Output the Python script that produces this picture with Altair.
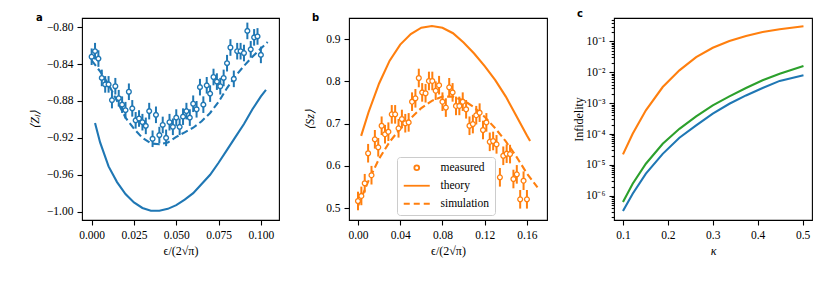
import altair as alt
import pandas as pd

BLUE = "#1f77b4"
ORANGE = "#ff7f0e"
GREEN = "#2ca02c"
FONT = "Liberation Serif"

# ---------------- panel a ----------------
a_meas_x = [0.000, 0.002, 0.004, 0.006, 0.008, 0.010, 0.012, 0.014, 0.016, 0.018,
            0.020, 0.022, 0.024, 0.026, 0.028, 0.030, 0.032, 0.034, 0.036, 0.038,
            0.040, 0.042, 0.044, 0.046, 0.048, 0.050, 0.052, 0.054, 0.056, 0.058,
            0.060, 0.062, 0.064, 0.066, 0.068, 0.070, 0.072, 0.074, 0.076, 0.078,
            0.080, 0.082, 0.084, 0.086, 0.088, 0.090, 0.092, 0.094, 0.096, 0.098,
            0.100]
a_meas_y = [-0.832, -0.826, -0.834, -0.855, -0.862, -0.862, -0.879, -0.864, -0.877, -0.884,
            -0.890, -0.870, -0.888, -0.901, -0.899, -0.903, -0.907, -0.891, -0.921, -0.895,
            -0.917, -0.906, -0.920, -0.903, -0.908, -0.898, -0.908, -0.897, -0.891, -0.898,
            -0.883, -0.889, -0.865, -0.884, -0.863, -0.872, -0.854, -0.859, -0.864, -0.855,
            -0.839, -0.822, -0.856, -0.826, -0.826, -0.828, -0.804, -0.824, -0.811, -0.810,
            -0.830]
a_err = 0.009

a_sim_x = [0.000, 0.005, 0.010, 0.015, 0.020, 0.025, 0.030, 0.035, 0.040, 0.045, 0.050,
           0.055, 0.060, 0.065, 0.070, 0.075, 0.080, 0.085, 0.090, 0.095, 0.100, 0.104]
a_sim_y = [-0.836, -0.848, -0.862, -0.880, -0.898, -0.910, -0.920, -0.926, -0.927, -0.925, -0.919,
           -0.914, -0.909, -0.902, -0.893, -0.881, -0.866, -0.853, -0.842, -0.832, -0.823, -0.816]

a_th_x = [0.002, 0.005, 0.010, 0.015, 0.020, 0.025, 0.030, 0.035, 0.040, 0.045, 0.050,
          0.055, 0.060, 0.065, 0.070, 0.075, 0.080, 0.085, 0.090, 0.095, 0.100, 0.103]
a_th_y = [-0.904, -0.925, -0.951, -0.968, -0.981, -0.990, -0.996, -0.999, -0.999, -0.997, -0.993,
          -0.987, -0.980, -0.970, -0.960, -0.947, -0.933, -0.919, -0.905, -0.889, -0.875, -0.868]

a_xticks = [0.0, 0.025, 0.05, 0.075, 0.1]
a_yticks = [-1.00, -0.96, -0.92, -0.88, -0.84, -0.80]

# ---------------- panel b ----------------
b_meas_x = [0.0000, 0.0032, 0.0064, 0.0096, 0.0128, 0.0160, 0.0192, 0.0224, 0.0256, 0.0288,
            0.0320, 0.0352, 0.0384, 0.0416, 0.0448, 0.0480, 0.0512, 0.0544, 0.0576, 0.0608,
            0.0640, 0.0672, 0.0704, 0.0736, 0.0768, 0.0800, 0.0832, 0.0864, 0.0896, 0.0928,
            0.0960, 0.0992, 0.1024, 0.1056, 0.1088, 0.1120, 0.1152, 0.1184, 0.1216, 0.1248,
            0.1280, 0.1312, 0.1344, 0.1376, 0.1408, 0.1440, 0.1472, 0.1504, 0.1536, 0.1568,
            0.1600]
b_meas_y = [0.517, 0.529, 0.559, 0.630, 0.578, 0.663, 0.644, 0.695, 0.675, 0.681,
            0.722, 0.722, 0.689, 0.711, 0.701, 0.703, 0.752, 0.760, 0.808, 0.774,
            0.772, 0.801, 0.801, 0.778, 0.791, 0.752, 0.738, 0.786, 0.774, 0.742,
            0.742, 0.752, 0.734, 0.695, 0.699, 0.720, 0.726, 0.685, 0.703, 0.657,
            0.659, 0.651, 0.573, 0.624, 0.629, 0.628, 0.569, 0.580, 0.521, 0.565,
            0.521]
b_err = 0.022

b_th_x = [0.003, 0.010, 0.020, 0.030, 0.040, 0.050, 0.060, 0.070, 0.080, 0.090,
          0.100, 0.110, 0.120, 0.130, 0.140, 0.150, 0.160, 0.163]
b_th_y = [0.671, 0.727, 0.795, 0.849, 0.887, 0.912, 0.927, 0.931, 0.927, 0.914,
          0.892, 0.866, 0.836, 0.803, 0.764, 0.718, 0.672, 0.659]

b_sim_x = [0.000, 0.010, 0.020, 0.030, 0.040, 0.050, 0.060, 0.070, 0.080, 0.090,
           0.100, 0.110, 0.120, 0.130, 0.140, 0.150, 0.160, 0.170]
b_sim_y = [0.505, 0.565, 0.617, 0.657, 0.688, 0.713, 0.737, 0.754, 0.764, 0.764,
           0.755, 0.739, 0.716, 0.689, 0.658, 0.622, 0.582, 0.549]

b_xticks = [0.0, 0.04, 0.08, 0.12, 0.16]
b_yticks = [0.5, 0.6, 0.7, 0.8, 0.9]
legend_labels = ["measured", "theory", "simulation"]

# ---------------- panel c ----------------
c_kappa = [0.100, 0.1216, 0.151, 0.1885, 0.2257, 0.263, 0.300, 0.337, 0.374, 0.411, 0.449, 0.502]
c_orange_log = [-4.657, -3.99, -3.233, -2.479, -1.94, -1.51, -1.207, -0.99, -0.828, -0.70, -0.612, -0.515]
c_green_log = [-6.20, -5.608, -4.96, -4.314, -3.83, -3.43, -3.07, -2.78, -2.51, -2.26, -2.05, -1.80]
c_blue_log = [-6.49, -5.93, -5.28, -4.64, -4.12, -3.72, -3.34, -3.02, -2.75, -2.51, -2.28, -2.10]
c_xticks = [0.1, 0.2, 0.3, 0.4, 0.5]
c_decades = [-7, -6, -5, -4, -3, -2, -1]
c_mults = [1, 2, 3, 4, 5, 6, 7, 8, 9]

# ---------------- styles ----------------
W, H = 197, 202
TICK = 5
LW = 2.1
DASH = [7, 3.5]


def panel_title(letter, dx=-37):
    return alt.TitleParams(letter, anchor="start", frame="group", dx=dx, fontSize=10,
                           fontWeight="bold", font="DejaVu Sans", offset=-5, color="black")


# panel a
dfa = pd.DataFrame({"x": a_meas_x, "y": a_meas_y})
dfa["lo"] = dfa["y"] - a_err
dfa["hi"] = dfa["y"] + a_err
dfa_sim = pd.DataFrame({"x": a_sim_x, "y": a_sim_y})
dfa_th = pd.DataFrame({"x": a_th_x, "y": a_th_y})

xa = alt.Scale(domain=[-0.0057, 0.1107], nice=False, zero=False)
ya = alt.Scale(domain=[-1.0091, -0.790], nice=False, zero=False)
xa_axis = alt.Axis(values=a_xticks, format=".3f", title="ϵ/(2√π)")
ya_axis = alt.Axis(values=a_yticks, format=".2f", title="⟨Zₗ⟩", titleFontStyle="italic")

a_bars = alt.Chart(dfa).mark_rule(color=BLUE, strokeWidth=2).encode(
    x=alt.X("x:Q", scale=xa, axis=xa_axis),
    y=alt.Y("lo:Q", scale=ya, axis=ya_axis),
    y2="hi:Q")
a_pts = alt.Chart(dfa).mark_point(shape="circle", fill="white", stroke=BLUE, strokeWidth=1.4,
                                   size=22, opacity=1, fillOpacity=1).encode(
    x=alt.X("x:Q", scale=xa), y=alt.Y("y:Q", scale=ya))
a_sim = alt.Chart(dfa_sim).mark_line(color=BLUE, strokeWidth=LW, strokeDash=DASH).encode(
    x=alt.X("x:Q", scale=xa), y=alt.Y("y:Q", scale=ya))
a_th = alt.Chart(dfa_th).mark_line(color=BLUE, strokeWidth=LW).encode(
    x=alt.X("x:Q", scale=xa), y=alt.Y("y:Q", scale=ya))
chart_a = alt.layer(a_th, a_sim, a_bars, a_pts).properties(width=W, height=H,
                                                           title=panel_title("a", dx=-46))

# panel b  (legend symbols: custom paths, 4 px per unit at size 64)
SYM_SIZE = 64
CIRCLE_PATH = "M0.6,0A0.6,0.6,0,1,1,-0.6,0A0.6,0.6,0,1,1,0.6,0Z"
LINE_PATH = "M-3.25,0L3.25,0"
DASH_PATH = "M-3.25,0L-1.75,0M-0.75,0L0.75,0M1.75,0L3.25,0"

dfb = pd.DataFrame({"x": b_meas_x, "y": b_meas_y})
dfb["lo"] = dfb["y"] - b_err
dfb["hi"] = dfb["y"] + b_err
dfb["series"] = legend_labels[0]
dfb_th = pd.DataFrame({"x": b_th_x, "y": b_th_y})
dfb_sim = pd.DataFrame({"x": b_sim_x, "y": b_sim_y})

xb = alt.Scale(domain=[-0.0085, 0.179], nice=False, zero=False)
yb = alt.Scale(domain=[0.472, 0.95], nice=False, zero=False)
xb_axis = alt.Axis(values=b_xticks, format=".2f", title="ϵ/(2√π)")
yb_axis = alt.Axis(values=b_yticks, format=".1f", title="⟨Sz⟩", titleFontStyle="italic",
                   titlePadding=9)


def b_legend():
    return alt.Legend(title=None, orient="none", legendX=48, legendY=139,
                      symbolSize=SYM_SIZE, symbolStrokeWidth=1.8, symbolFillColor="white",
                      symbolStrokeColor=ORANGE, symbolOpacity=1, symbolOffset=9,
                      labelFont=FONT, labelFontSize=11.5, labelColor="black",
                      labelOffset=18, rowPadding=5, padding=5,
                      strokeColor="#cccccc", fillColor="white", cornerRadius=3)


b_bars = alt.Chart(dfb).mark_rule(color=ORANGE, strokeWidth=2).encode(
    x=alt.X("x:Q", scale=xb, axis=xb_axis),
    y=alt.Y("lo:Q", scale=yb, axis=yb_axis),
    y2="hi:Q")
b_pts = alt.Chart(dfb).mark_point(filled=False, fill="white", strokeWidth=1.3,
                                   size=SYM_SIZE, opacity=1, fillOpacity=1).encode(
    x=alt.X("x:Q", scale=xb), y=alt.Y("y:Q", scale=yb),
    color=alt.Color("series:N", scale=alt.Scale(domain=legend_labels,
                                                range=[ORANGE, ORANGE, ORANGE]),
                    legend=b_legend()),
    shape=alt.Shape("series:N",
                    scale=alt.Scale(domain=legend_labels, range=[CIRCLE_PATH, LINE_PATH, DASH_PATH]),
                    legend=b_legend()))
b_th = alt.Chart(dfb_th).mark_line(color=ORANGE, strokeWidth=LW).encode(
    x=alt.X("x:Q", scale=xb), y=alt.Y("y:Q", scale=yb))
b_sim = alt.Chart(dfb_sim).mark_line(color=ORANGE, strokeWidth=LW, strokeDash=DASH).encode(
    x=alt.X("x:Q", scale=xb), y=alt.Y("y:Q", scale=yb))
chart_b = alt.layer(b_th, b_sim, b_bars, b_pts).properties(width=W + 1, height=H, title=panel_title("b"))

# panel c
rows = []
for name, vals in (("blue", c_blue_log), ("orange", c_orange_log), ("green", c_green_log)):
    for k, v in zip(c_kappa, vals):
        rows.append({"kappa": k, "infid": 10 ** v, "curve": name})
dfc = pd.DataFrame(rows)

c_yvals = [m * 10.0 ** d for d in c_decades for m in c_mults]
c_yvals = [v for v in c_yvals if 1.66e-7 <= v <= 0.568]
is_major = "abs(log(datum.value)/LN10 - round(log(datum.value)/LN10)) < 0.001"
sup = "['⁰','⁻¹','⁻²','⁻³','⁻⁴','⁻⁵','⁻⁶','⁻⁷'][-round(log(datum.value)/LN10)]"

xc = alt.Scale(domain=[0.08, 0.521], nice=False, zero=False)
yc = alt.Scale(type="log", domain=[1.66e-7, 0.568], nice=False)
chart_c = alt.Chart(dfc).mark_line(strokeWidth=LW).encode(
    x=alt.X("kappa:Q", scale=xc, axis=alt.Axis(values=c_xticks, format=".1f", title="κ",
                                               titleFontStyle="italic")),
    y=alt.Y("infid:Q", scale=yc,
            axis=alt.Axis(values=c_yvals, title="Infidelity", labelOverlap=False, titlePadding=0,
                          labelExpr=f"{is_major} ? '10' + {sup} : ''",
                          tickSize={"condition": {"test": is_major, "value": TICK}, "value": 2.8})),
    color=alt.Color("curve:N", scale=alt.Scale(domain=["blue", "orange", "green"],
                                               range=[BLUE, ORANGE, GREEN]), legend=None),
    detail="curve:N",
).properties(width=W + 1, height=H, title=panel_title("c"))

chart = alt.hconcat(chart_a, chart_b, chart_c, spacing=23).resolve_legend(
    shape="independent", color="independent"
).resolve_scale(color="independent", shape="independent").properties(
    padding={"left": 19, "top": 0, "right": 5, "bottom": 5}, background="white"
).configure_view(stroke="black", strokeWidth=1.1).configure_axis(
    labelFont=FONT, titleFont=FONT, labelFontSize=11.5, titleFontSize=12,
    labelColor="black", titleColor="black", titleFontWeight="normal",
    tickColor="black", tickWidth=1.1, tickSize=TICK, domain=False, grid=False,
    labelPadding=4, titlePadding=5
)

chart.save("out.html", embed_options={"renderer": "svg", "actions": False})
